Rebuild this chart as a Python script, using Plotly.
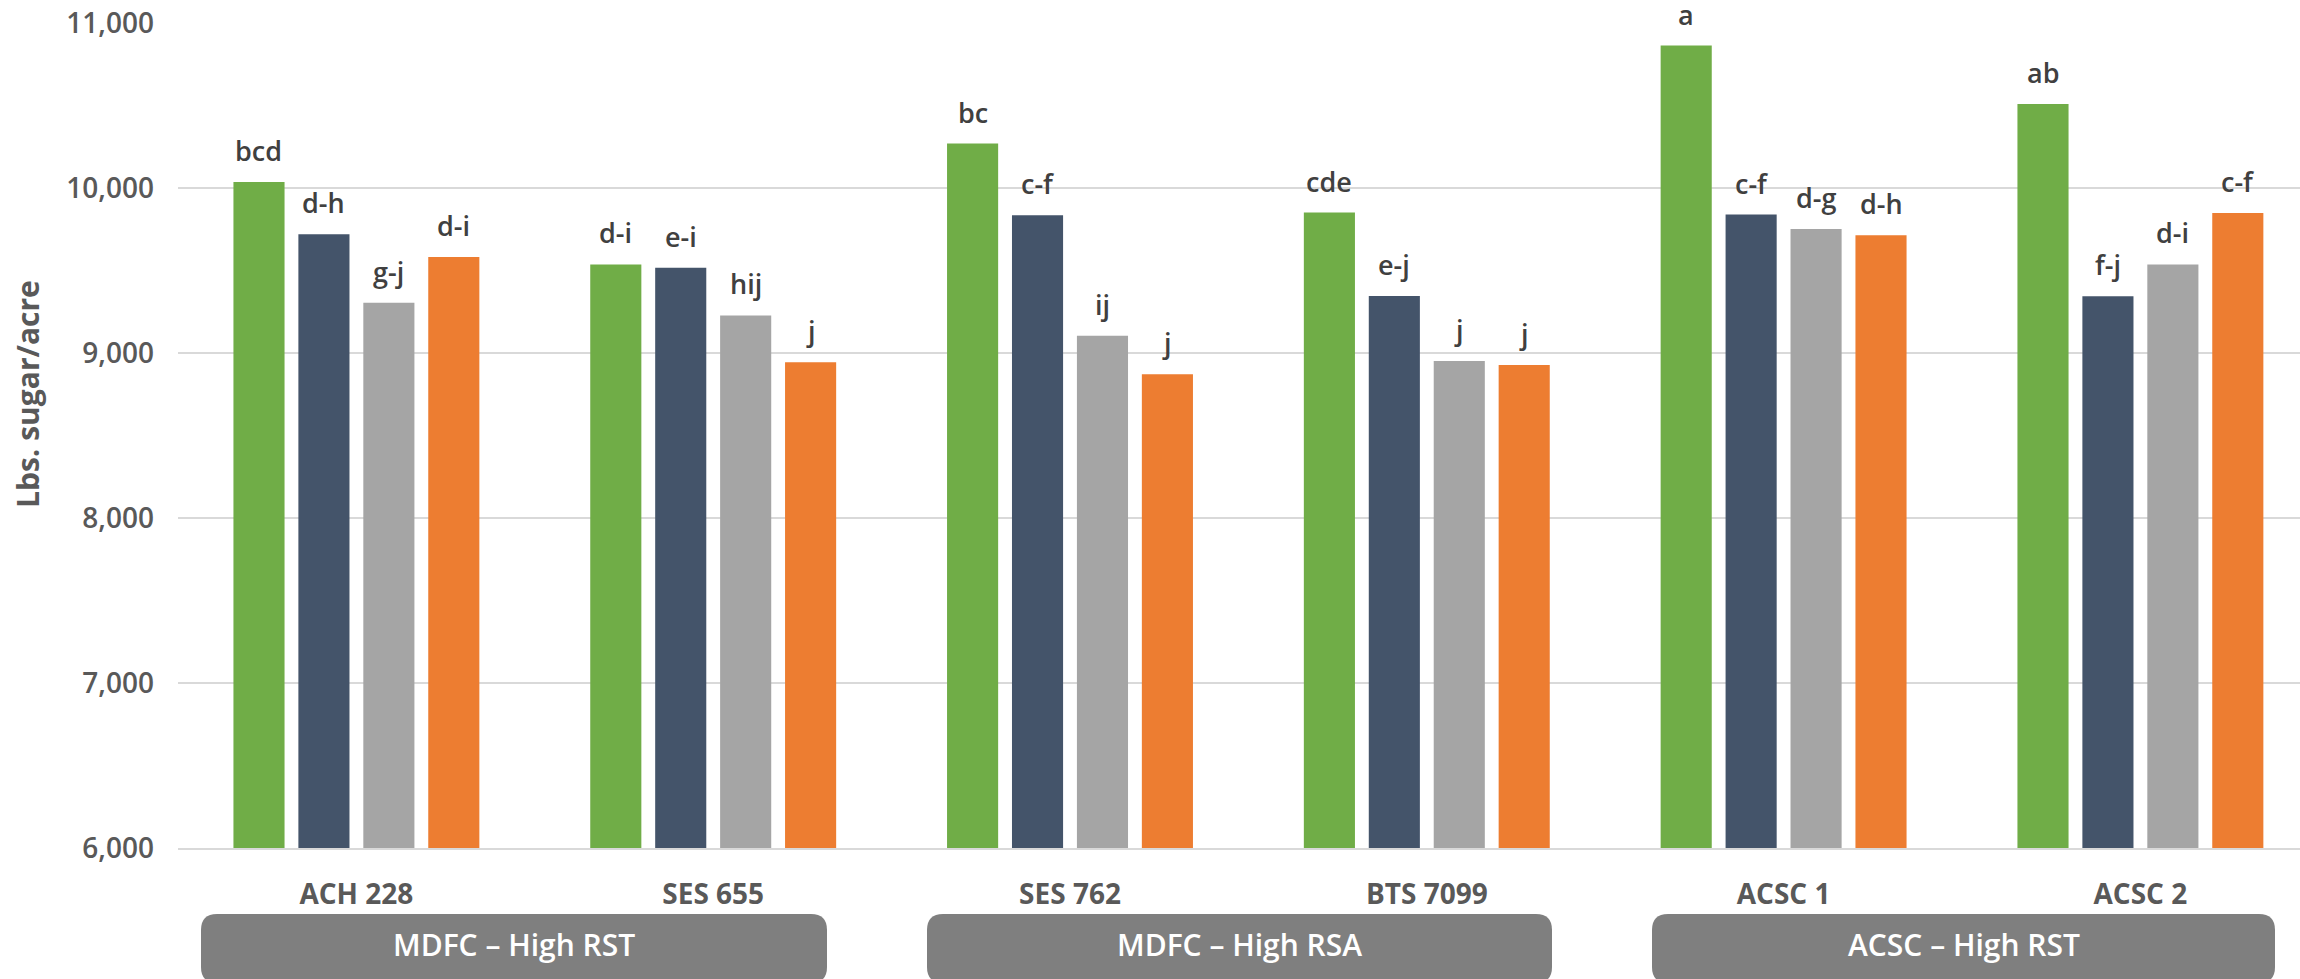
import plotly.graph_objects as go

# ---------------- data ----------------
categories = ["ACH 228", "SES 655", "SES 762", "BTS 7099", "ACSC 1", "ACSC 2"]
series_names = ["Series 1", "Series 2", "Series 3", "Series 4"]
series_colors = ["#70ad47", "#44546a", "#a5a5a5", "#ed7d31"]

values_s1 = [10036, 9537, 10269, 9851, 10863, 10509]
values_s2 = [9719, 9517, 9835, 9345, 9839, 9344]
values_s3 = [9305, 9228, 9105, 8952, 9752, 9537]
values_s4 = [9582, 8944, 8871, 8927, 9713, 9848]

letters_s1 = ["bcd", "d-i", "bc", "cde", "a", "ab"]
letters_s2 = ["d-h", "e-i", "c-f", "e-j", "c-f", "f-j"]
letters_s3 = ["g-j", "hij", "ij", "j", "d-g", "d-i"]
letters_s4 = ["d-i", "j", "j", "j", "d-h", "c-f"]

group_labels = ["MDFC \u2013 High RST", "MDFC \u2013 High RSA", "ACSC \u2013 High RST"]

y_ticks = [6000, 7000, 8000, 9000, 10000, 11000]
y_title = "Lbs. sugar/acre"

# ---------------- layout constants ----------------
W, H = 2300, 979
ML, MR, MT, MB = 178, 0, 23, 131
PW, PH = W - ML - MR, H - MT - MB
BARGAP = 0.272
BARGROUPGAP = 0.213
CAT_PX = 356.8  # pixels per category
x_range = [-0.5, -0.5 + PW / CAT_PX]


def pxx(px):
    return (px - ML) / PW


def pxy(py):
    return (H - MB - py) / PH


all_values = [values_s1, values_s2, values_s3, values_s4]
all_letters = [letters_s1, letters_s2, letters_s3, letters_s4]

fig = go.Figure()
for name, color, vals in zip(series_names, series_colors, all_values):
    fig.add_trace(go.Bar(
        x=categories, y=vals, name=name,
        marker=dict(color=color, line=dict(width=0)),
        showlegend=False,
        hovertemplate="%{x}: %{y:,}<extra></extra>",
    ))

annotations = []
slot = (1 - BARGAP) / len(all_values)
for j, (vals, lets) in enumerate(zip(all_values, all_letters)):
    for i, (v, t) in enumerate(zip(vals, lets)):
        annotations.append(dict(
            x=i + (j - (len(all_values) - 1) / 2) * slot, y=v,
            xref="x", yref="y", text=t, showarrow=False,
            xanchor="center", yanchor="bottom", yshift=11,
            font=dict(family="Open Sans", size=27, color="#404040", weight=600),
        ))

# y axis title
annotations.append(dict(
    x=pxx(27), y=pxy(394), xref="paper", yref="paper",
    xanchor="center", yanchor="middle",
    text=y_title, showarrow=False, textangle=-90,
    font=dict(family="Open Sans", size=30, color="#595959", weight=700),
))

# group boxes
box_px = [(201, 827), (927, 1552), (1652, 2275)]
box_top, box_bot, rad = 914, 983, 16
shapes = []
for (x0p, x1p), lab in zip(box_px, group_labels):
    x0, x1 = pxx(x0p), pxx(x1p)
    xr0, xr1 = pxx(x0p + rad), pxx(x1p - rad)
    yt, yb = pxy(box_top), pxy(box_bot)
    yt2, yb2 = pxy(box_top + rad), pxy(box_bot - rad)
    path = (f"M {xr0} {yt} L {xr1} {yt} Q {x1} {yt} {x1} {yt2} "
            f"L {x1} {yb2} Q {x1} {yb} {xr1} {yb} L {xr0} {yb} "
            f"Q {x0} {yb} {x0} {yb2} L {x0} {yt2} Q {x0} {yt} {xr0} {yt} Z")
    shapes.append(dict(type="path", path=path, xref="paper", yref="paper",
                       fillcolor="#7f7f7f", line=dict(width=0), layer="above"))
    annotations.append(dict(
        x=pxx((x0p + x1p) / 2), y=pxy(944), xref="paper", yref="paper",
        xanchor="center", yanchor="middle",
        text=lab, showarrow=False,
        font=dict(family="Open Sans", size=30, color="#ffffff", weight=600),
    ))

fig.update_layout(
    width=W, height=H,
    margin=dict(l=ML, r=MR, t=MT, b=MB, pad=0),
    paper_bgcolor="#ffffff", plot_bgcolor="#ffffff",
    barmode="group", bargap=BARGAP, bargroupgap=BARGROUPGAP,
    annotations=annotations, shapes=shapes,
    font=dict(family="Open Sans", color="#595959"),
)

fig.update_xaxes(
    type="category", range=x_range, showgrid=False,
    showline=True, linecolor="#d9d9d9", linewidth=2,
    ticks="", ticklabelstandoff=20,
    tickfont=dict(family="Open Sans", size=28, color="#595959", weight=700),
    fixedrange=True,
)
fig.update_yaxes(
    range=[6000, 11000], tickvals=y_ticks,
    ticktext=[f"{v:,}" for v in y_ticks],
    showgrid=True, gridcolor="#d9d9d9", gridwidth=2,
    zeroline=False, showline=False, ticks="",
    ticklabelstandoff=23,
    tickfont=dict(family="Open Sans", size=28, color="#595959", weight=600),
    fixedrange=True,
)

fig.write_html(
    "out.html",
    config={"displayModeBar": False},
    post_script="document.body.style.margin='0';document.body.style.overflow='hidden';",
)
